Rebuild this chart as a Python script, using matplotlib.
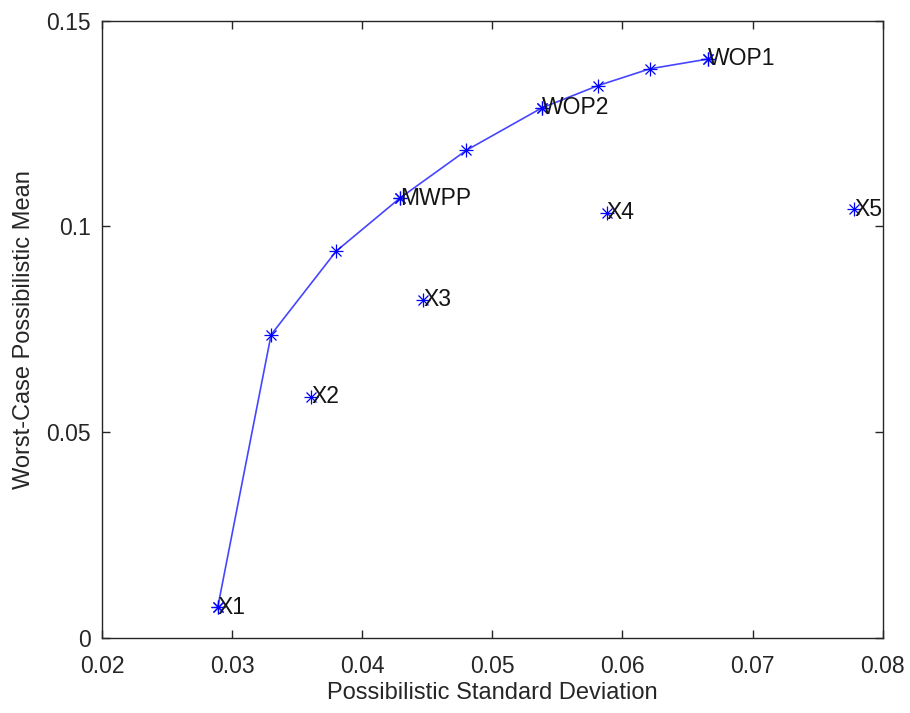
import matplotlib.pyplot as plt

plt.rcParams['font.family'] = ['Liberation Sans', 'DejaVu Sans']

# efficient frontier
frontier_sd = [0.0289, 0.0330, 0.0380, 0.0429, 0.0480, 0.0538, 0.0581, 0.0621, 0.0666]
frontier_mean = [0.0075, 0.0737, 0.0940, 0.1069, 0.1185, 0.1288, 0.1342, 0.1383, 0.1407]

# labelled portfolios
point_names = ['X1', 'X2', 'X3', 'X4', 'X5', 'MWPP', 'WOP2', 'WOP1']
point_sd = [0.0289, 0.0361, 0.0447, 0.0588, 0.0778, 0.0429, 0.0538, 0.0666]
point_mean = [0.0075, 0.0587, 0.0822, 0.1033, 0.1042, 0.1069, 0.1288, 0.1407]

x_ticks = [0.02, 0.03, 0.04, 0.05, 0.06, 0.07, 0.08]
y_ticks = [0, 0.05, 0.1, 0.15]
y_tick_labels = ['0', '0.05', '0.1', '0.15']

fig = plt.figure(figsize=(9.1, 7.13), dpi=100)
ax = fig.add_axes([0.112, 0.105, 0.858, 0.866])

line_col = '#4646ff'
ax.plot(frontier_sd, frontier_mean, color=line_col, lw=1.2, zorder=2)

# MATLAB style asterisk = plus + cross
all_sd = frontier_sd + point_sd
all_mean = frontier_mean + point_mean
ax.plot(all_sd, all_mean, ls='none', marker='+', ms=10, mew=0.9, color='blue', zorder=3)
ax.plot(all_sd, all_mean, ls='none', marker='x', ms=7, mew=0.9, color='blue', zorder=3)

for name, sx, my in zip(point_names, point_sd, point_mean):
    ax.text(sx, my, name, ha='left', va='center', fontsize=16.5, color='#141414', zorder=4)

ax.set_xlim(0.02, 0.08)
ax.set_ylim(0, 0.15)
ax.set_xticks(x_ticks)
ax.set_xticklabels([f'{t:.2f}' for t in x_ticks])
ax.set_yticks(y_ticks)
ax.set_yticklabels(y_tick_labels)

axis_col = '#262626'
for s in ax.spines.values():
    s.set_color(axis_col)
    s.set_linewidth(1.0)
ax.tick_params(direction='in', top=True, right=True, length=6, width=1.0,
               color=axis_col, labelcolor=axis_col, labelsize=16.5, pad=8)
ax.tick_params(axis='x', pad=12)

ax.set_xlabel('Possibilistic Standard Deviation', fontsize=17, color=axis_col, labelpad=3)
ax.set_ylabel('Worst-Case Possibilistic Mean', fontsize=17, color=axis_col, labelpad=8)

fig.savefig('out.png', dpi=100)
